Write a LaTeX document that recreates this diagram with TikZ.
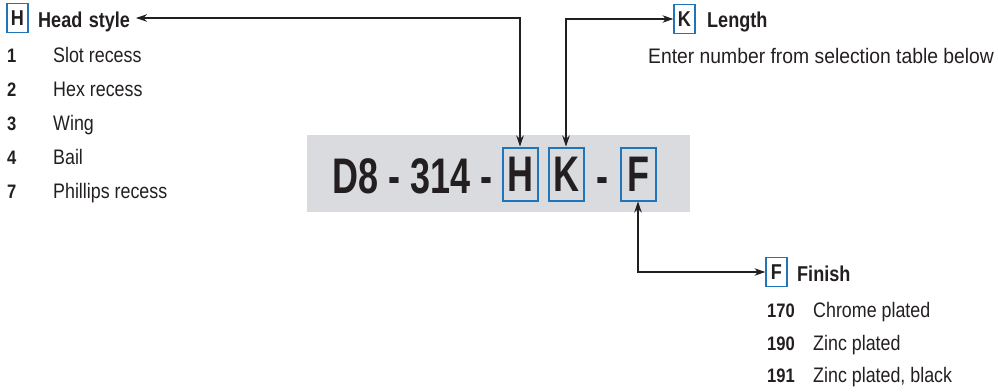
\documentclass[tikz,border=0pt]{standalone}
\usepackage{fontspec}
\setmainfont{Liberation Sans}[FakeStretch=0.85]
\newfontfamily\entfont{Liberation Sans}[FakeStretch=0.92]
\newfontfamily\headfont{Liberation Sans}[FakeStretch=0.84, WordSpace=1.3]
\newfontfamily\codefont{Liberation Sans}[FakeStretch=0.72]
\usetikzlibrary{arrows.meta}
\definecolor{ink}{HTML}{231F20}
\definecolor{codebg}{HTML}{D9DBDE}
\definecolor{boxblue}{HTML}{1F74BA}
\tikzset{
  item/.style={anchor=base west, inner sep=0pt, font=\fontsize{21}{22}\selectfont, text=ink},
  num/.style={anchor=base west, inner sep=0pt, font=\fontsize{19.5}{20}\selectfont\bfseries, text=ink},
  head/.style={anchor=base west, inner sep=0pt, font=\headfont\fontsize{21.5}{22}\selectfont\bfseries, text=ink},
  lbox/.style={draw=boxblue, line width=1.3pt, inner sep=0pt, minimum width=21pt, minimum height=29pt, font=\headfont\fontsize{21.5}{22}\selectfont\bfseries, text=ink},
  cbox/.style={draw=boxblue, line width=2pt, inner sep=0pt, minimum width=35pt, minimum height=53pt, font=\codefont\fontsize{50}{50}\selectfont\bfseries, text=ink},
  code/.style={anchor=base west, inner sep=0pt, font=\codefont\fontsize{50}{50}\selectfont\bfseries, text=ink},
  conn/.style={draw=ink, line width=1.1pt, {Stealth[length=11pt,width=7.5pt]}-{Stealth[length=11pt,width=7.5pt]}}
}
\begin{document}
\begin{tikzpicture}[x=1pt,y=-1pt]
\useasboundingbox (0,0) rectangle (998,391);
% code strip
\node[fill=codebg, minimum width=383pt, minimum height=77pt, inner sep=0pt] (strip) at (498.5,173.5) {};
\node[code] (code) at (332,193) {D8 - 314 -};
\node[cbox] (Hb) at (520,174) {H};
\node[cbox] (Kb) at (566,174) {K};
\node[code, anchor=base] (dash) at (602,193) {-};
\node[cbox] (Fb) at (638,174) {F};
% head style legend
\node[lbox] (Hl) at (17.5,18) {H};
\node[head] (hs) at (38,27) {Head style};
\coordinate (hsa) at (136,18);
\node[num] (n1) at (7,62) {1};   \node[item] (t1) at (53,62) {Slot recess};
\node[num] (n2) at (7,96) {2};   \node[item] (t2) at (53,96) {Hex recess};
\node[num] (n3) at (7,130) {3};  \node[item] (t3) at (53,130) {Wing};
\node[num] (n4) at (7,164) {4};  \node[item] (t4) at (53,164) {Bail};
\node[num] (n7) at (7,198) {7};  \node[item] (t7) at (53,198) {Phillips recess};
% length legend
\node[lbox] (Kl) at (684.5,19) {K};
\node[head] (len) at (707,27) {Length};
\node[item, font=\entfont\fontsize{21}{22}\selectfont] (ent) at (648,63) {Enter number from selection table below};
% finish legend
\node[lbox] (Fl) at (776.5,272) {F};
\node[head] (fin) at (797,281) {Finish};
\node[num] (f1) at (767,317) {170}; \node[item] (g1) at (813,317) {Chrome plated};
\node[num] (f2) at (767,350) {190}; \node[item] (g2) at (813,350) {Zinc plated};
\node[num] (f3) at (767,382) {191}; \node[item] (g3) at (813,382) {Zinc plated, black};
% connectors
\draw[conn] (hsa) -| (Hb.north);
\draw[conn] (Kb.north) |- (Kl.west);
\draw[conn] (Fb.south) |- (Fl.west);
\end{tikzpicture}
\end{document}
